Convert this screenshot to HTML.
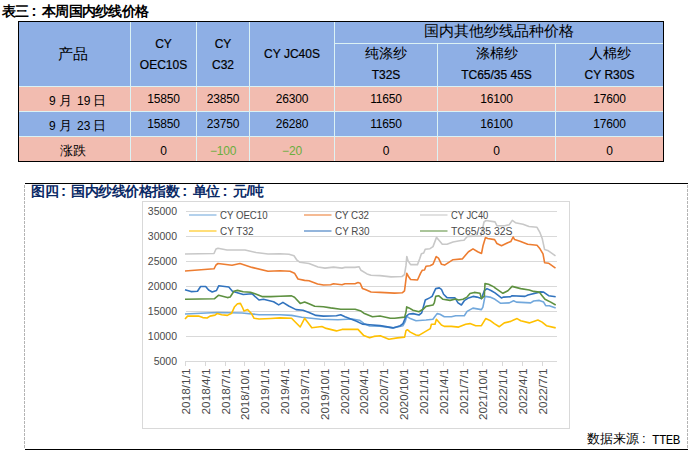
<!DOCTYPE html>
<html><head><meta charset="utf-8">
<style>
html,body{margin:0;padding:0;background:#fff;}
body{width:692px;height:455px;position:relative;overflow:hidden;font-family:"Liberation Sans",sans-serif;}
.a{position:absolute;}
.t1{left:2px;top:2px;font-size:14px;letter-spacing:-0.7px;font-weight:bold;color:#000;white-space:nowrap;line-height:18px;}
.cl{display:inline-block;width:13.3px;padding-left:3px;box-sizing:border-box;letter-spacing:0;font-size:15px;line-height:10px;}
.cell{position:absolute;text-align:center;color:#000;white-space:nowrap;}
.hd{-webkit-text-stroke:0.2px #000;font-size:12px;line-height:21px;padding-top:0px;box-sizing:border-box;}
.cj{font-size:14px;}
.num{font-size:12px;letter-spacing:-0.2px;}
.dt{font-size:12px;line-height:14px;color:#000;}
.dtc{font-size:13px;line-height:16px;color:#000;}
.ax{font-family:"Liberation Sans",sans-serif;font-size:10.5px;fill:#4A4A4A;}
.axx{letter-spacing:0.9px;}
.lg{font-family:"Liberation Sans",sans-serif;font-size:10px;fill:#4A4A4A;}
.t2{left:31px;top:183px;font-size:14px;letter-spacing:-0.5px;font-weight:bold;color:#0A2A66;white-space:nowrap;line-height:16px;}
.src{left:587px;top:431px;font-size:13px;color:#000;white-space:nowrap;line-height:16px;}
</style></head><body>
<div class="a t1">表三<span class="cl">:</span>本周国内纱线价格</div>
<!-- table -->
<div class="a" style="left:18px;top:21px;width:644px;height:139px;border:1px solid #000;background:#F2BCB0;"></div>
<div class="a" style="left:19px;top:22px;width:644px;height:64px;background:#8EAFE5;"></div>
<div class="a" style="left:19px;top:112px;width:644px;height:24px;background:#8EAFE5;"></div>
<div class="a" style="left:19px;top:86px;width:644px;height:1px;background:#DCF2F4"></div>
<div class="a" style="left:19px;top:111px;width:644px;height:1px;background:#DCF2F4"></div>
<div class="a" style="left:19px;top:136px;width:644px;height:1px;background:#DCF2F4"></div>
<div class="a" style="left:334px;top:43px;width:329px;height:1px;background:#DCF2F4"></div>
<div class="a" style="left:130px;top:22px;width:1px;height:139px;background:#DCF2F4"></div>
<div class="a" style="left:196px;top:22px;width:1px;height:139px;background:#DCF2F4"></div>
<div class="a" style="left:249px;top:22px;width:1px;height:139px;background:#DCF2F4"></div>
<div class="a" style="left:334px;top:22px;width:1px;height:139px;background:#DCF2F4"></div>
<div class="a" style="left:437px;top:44px;width:1px;height:117px;background:#DCF2F4"></div>
<div class="a" style="left:555px;top:44px;width:1px;height:117px;background:#DCF2F4"></div><div class="cell hd" style="left:19px;top:22px;width:111px;height:64px;display:flex;align-items:center;justify-content:center;flex-direction:column;"><span style="font-size:14.5px;position:relative;left:-1.5px;-webkit-text-stroke:0">产品</span></div>
<div class="cell hd" style="left:131px;top:22px;width:65px;height:64px;display:flex;align-items:center;justify-content:center;flex-direction:column;"><div style="position:relative;top:1px">CY</div><div style="position:relative;top:1px">OEC10S</div></div>
<div class="cell hd" style="left:197px;top:22px;width:52px;height:64px;display:flex;align-items:center;justify-content:center;flex-direction:column;"><div style="position:relative;top:1px">CY</div><div style="position:relative;top:1px">C32</div></div>
<div class="cell hd" style="left:250px;top:22px;width:84px;height:64px;display:flex;align-items:center;justify-content:center;flex-direction:column;"><div>CY JC40S</div></div>
<div class="cell hd" style="left:335px;top:22px;width:328px;height:21px;display:flex;align-items:center;justify-content:center;flex-direction:column;"><span style="font-size:14.5px;-webkit-text-stroke:0;position:relative;top:-1px">国内其他纱线品种价格</span></div>
<div class="cell hd" style="left:335px;top:44px;width:102px;height:42px;display:flex;align-items:center;justify-content:center;flex-direction:column;"><div style="font-size:14px;-webkit-text-stroke:0;position:relative;top:-1.5px">纯涤纱</div><div>T32S</div></div>
<div class="cell hd" style="left:438px;top:44px;width:117px;height:42px;display:flex;align-items:center;justify-content:center;flex-direction:column;"><div style="font-size:14px;-webkit-text-stroke:0;position:relative;top:-1.5px">涤棉纱</div><div>TC65/35 45S</div></div>
<div class="cell hd" style="left:556px;top:44px;width:107px;height:42px;display:flex;align-items:center;justify-content:center;flex-direction:column;"><div style="font-size:14px;-webkit-text-stroke:0;position:relative;top:-1.5px">人棉纱</div><div>CY R30S</div></div>
<div class="cell num" style="left:131px;top:87px;width:65px;height:24px;display:flex;align-items:center;justify-content:center;flex-direction:column;">15850</div>
<div class="cell num" style="left:197px;top:87px;width:52px;height:24px;display:flex;align-items:center;justify-content:center;flex-direction:column;">23850</div>
<div class="cell num" style="left:250px;top:87px;width:84px;height:24px;display:flex;align-items:center;justify-content:center;flex-direction:column;">26300</div>
<div class="cell num" style="left:335px;top:87px;width:102px;height:24px;display:flex;align-items:center;justify-content:center;flex-direction:column;">11650</div>
<div class="cell num" style="left:438px;top:87px;width:117px;height:24px;display:flex;align-items:center;justify-content:center;flex-direction:column;">16100</div>
<div class="cell num" style="left:556px;top:87px;width:107px;height:24px;display:flex;align-items:center;justify-content:center;flex-direction:column;">17600</div>
<div class="cell num" style="left:131px;top:112px;width:65px;height:24px;display:flex;align-items:center;justify-content:center;flex-direction:column;">15850</div>
<div class="cell num" style="left:197px;top:112px;width:52px;height:24px;display:flex;align-items:center;justify-content:center;flex-direction:column;">23750</div>
<div class="cell num" style="left:250px;top:112px;width:84px;height:24px;display:flex;align-items:center;justify-content:center;flex-direction:column;">26280</div>
<div class="cell num" style="left:335px;top:112px;width:102px;height:24px;display:flex;align-items:center;justify-content:center;flex-direction:column;">11650</div>
<div class="cell num" style="left:438px;top:112px;width:117px;height:24px;display:flex;align-items:center;justify-content:center;flex-direction:column;">16100</div>
<div class="cell num" style="left:556px;top:112px;width:107px;height:24px;display:flex;align-items:center;justify-content:center;flex-direction:column;">17600</div>
<div class="cell num" style="left:131px;top:139px;width:65px;height:24px;display:flex;align-items:center;justify-content:center;flex-direction:column;">0</div>
<div class="cell num" style="left:197px;top:139px;width:52px;height:24px;display:flex;align-items:center;justify-content:center;flex-direction:column;"><span style="color:#6AAE3E">−100</span></div>
<div class="cell num" style="left:250px;top:139px;width:84px;height:24px;display:flex;align-items:center;justify-content:center;flex-direction:column;"><span style="color:#6AAE3E">−20</span></div>
<div class="cell num" style="left:335px;top:139px;width:102px;height:24px;display:flex;align-items:center;justify-content:center;flex-direction:column;">0</div>
<div class="cell num" style="left:438px;top:139px;width:117px;height:24px;display:flex;align-items:center;justify-content:center;flex-direction:column;">0</div>
<div class="cell num" style="left:556px;top:139px;width:107px;height:24px;display:flex;align-items:center;justify-content:center;flex-direction:column;">0</div>
<div class="a dt" style="left:49px;top:94px">9</div><div class="a dtc" style="left:59px;top:93px">月</div><div class="a dt" style="left:77px;top:94px">19</div><div class="a dtc" style="left:93px;top:93px">日</div>
<div class="a dt" style="left:49px;top:119px">9</div><div class="a dtc" style="left:59px;top:118px">月</div><div class="a dt" style="left:77px;top:119px">23</div><div class="a dtc" style="left:93px;top:118px">日</div>
<div class="a dtc" style="left:60px;top:143px;letter-spacing:0px">涨跌</div>
<!-- chart frame -->
<div class="a" style="left:25px;top:183px;width:663px;height:1px;background:#000"></div>
<div class="a" style="left:25px;top:449px;width:663px;height:1px;background:#000"></div>
<svg class="a" style="left:0;top:0" width="692" height="455"><line x1="24.5" y1="185" x2="24.5" y2="449" stroke="#B4B4B4" stroke-width="1" stroke-dasharray="3,1"/><line x1="687.5" y1="185" x2="687.5" y2="449" stroke="#B4B4B4" stroke-width="1" stroke-dasharray="3,1"/></svg>
<div class="a t2">图四<span class="cl">:</span>国内纱线价格指数<span class="cl">:</span>单位<span class="cl">:</span>元/吨</div>
<svg class="a" style="left:0;top:0" width="692" height="455" viewBox="0 0 692 455">
<rect x="142.5" y="201.5" width="427" height="227" fill="#fff" stroke="#D9D9D9" stroke-width="1"/>
<line x1="186" y1="211.5" x2="557" y2="211.5" stroke="#D9D9D9" stroke-width="1"/>
<line x1="186" y1="236.5" x2="557" y2="236.5" stroke="#D9D9D9" stroke-width="1"/>
<line x1="186" y1="261.5" x2="557" y2="261.5" stroke="#D9D9D9" stroke-width="1"/>
<line x1="186" y1="286.5" x2="557" y2="286.5" stroke="#D9D9D9" stroke-width="1"/>
<line x1="186" y1="311.5" x2="557" y2="311.5" stroke="#D9D9D9" stroke-width="1"/>
<line x1="186" y1="336.5" x2="557" y2="336.5" stroke="#D9D9D9" stroke-width="1"/>
<line x1="185" y1="361.5" x2="557" y2="361.5" stroke="#D9D9D9" stroke-width="1"/>
<line x1="185.5" y1="361" x2="185.5" y2="366" stroke="#D9D9D9" stroke-width="1"/>
<line x1="205.5" y1="361" x2="205.5" y2="366" stroke="#D9D9D9" stroke-width="1"/>
<line x1="225.5" y1="361" x2="225.5" y2="366" stroke="#D9D9D9" stroke-width="1"/>
<line x1="244.5" y1="361" x2="244.5" y2="366" stroke="#D9D9D9" stroke-width="1"/>
<line x1="264.5" y1="361" x2="264.5" y2="366" stroke="#D9D9D9" stroke-width="1"/>
<line x1="284.5" y1="361" x2="284.5" y2="366" stroke="#D9D9D9" stroke-width="1"/>
<line x1="304.5" y1="361" x2="304.5" y2="366" stroke="#D9D9D9" stroke-width="1"/>
<line x1="324.5" y1="361" x2="324.5" y2="366" stroke="#D9D9D9" stroke-width="1"/>
<line x1="344.5" y1="361" x2="344.5" y2="366" stroke="#D9D9D9" stroke-width="1"/>
<line x1="363.5" y1="361" x2="363.5" y2="366" stroke="#D9D9D9" stroke-width="1"/>
<line x1="383.5" y1="361" x2="383.5" y2="366" stroke="#D9D9D9" stroke-width="1"/>
<line x1="403.5" y1="361" x2="403.5" y2="366" stroke="#D9D9D9" stroke-width="1"/>
<line x1="423.5" y1="361" x2="423.5" y2="366" stroke="#D9D9D9" stroke-width="1"/>
<line x1="443.5" y1="361" x2="443.5" y2="366" stroke="#D9D9D9" stroke-width="1"/>
<line x1="463.5" y1="361" x2="463.5" y2="366" stroke="#D9D9D9" stroke-width="1"/>
<line x1="482.5" y1="361" x2="482.5" y2="366" stroke="#D9D9D9" stroke-width="1"/>
<line x1="502.5" y1="361" x2="502.5" y2="366" stroke="#D9D9D9" stroke-width="1"/>
<line x1="522.5" y1="361" x2="522.5" y2="366" stroke="#D9D9D9" stroke-width="1"/>
<line x1="542.5" y1="361" x2="542.5" y2="366" stroke="#D9D9D9" stroke-width="1"/>
<text x="177" y="215" text-anchor="end" class="ax">35000</text>
<text x="177" y="240" text-anchor="end" class="ax">30000</text>
<text x="177" y="265" text-anchor="end" class="ax">25000</text>
<text x="177" y="290" text-anchor="end" class="ax">20000</text>
<text x="177" y="315" text-anchor="end" class="ax">15000</text>
<text x="177" y="340" text-anchor="end" class="ax">10000</text>
<text x="177" y="365" text-anchor="end" class="ax">5000</text>
<text x="189.5" y="368.5" text-anchor="end" class="ax" textLength="46" lengthAdjust="spacingAndGlyphs" transform="rotate(-90 189.5 368.5)">2018/1/1</text>
<text x="209.5" y="368.5" text-anchor="end" class="ax" textLength="46" lengthAdjust="spacingAndGlyphs" transform="rotate(-90 209.5 368.5)">2018/4/1</text>
<text x="229.5" y="368.5" text-anchor="end" class="ax" textLength="46" lengthAdjust="spacingAndGlyphs" transform="rotate(-90 229.5 368.5)">2018/7/1</text>
<text x="248.5" y="368.5" text-anchor="end" class="ax" textLength="51.5" lengthAdjust="spacingAndGlyphs" transform="rotate(-90 248.5 368.5)">2018/10/1</text>
<text x="268.5" y="368.5" text-anchor="end" class="ax" textLength="46" lengthAdjust="spacingAndGlyphs" transform="rotate(-90 268.5 368.5)">2019/1/1</text>
<text x="288.5" y="368.5" text-anchor="end" class="ax" textLength="46" lengthAdjust="spacingAndGlyphs" transform="rotate(-90 288.5 368.5)">2019/4/1</text>
<text x="308.5" y="368.5" text-anchor="end" class="ax" textLength="46" lengthAdjust="spacingAndGlyphs" transform="rotate(-90 308.5 368.5)">2019/7/1</text>
<text x="328.5" y="368.5" text-anchor="end" class="ax" textLength="51.5" lengthAdjust="spacingAndGlyphs" transform="rotate(-90 328.5 368.5)">2019/10/1</text>
<text x="348.5" y="368.5" text-anchor="end" class="ax" textLength="46" lengthAdjust="spacingAndGlyphs" transform="rotate(-90 348.5 368.5)">2020/1/1</text>
<text x="367.5" y="368.5" text-anchor="end" class="ax" textLength="46" lengthAdjust="spacingAndGlyphs" transform="rotate(-90 367.5 368.5)">2020/4/1</text>
<text x="387.5" y="368.5" text-anchor="end" class="ax" textLength="46" lengthAdjust="spacingAndGlyphs" transform="rotate(-90 387.5 368.5)">2020/7/1</text>
<text x="407.5" y="368.5" text-anchor="end" class="ax" textLength="51.5" lengthAdjust="spacingAndGlyphs" transform="rotate(-90 407.5 368.5)">2020/10/1</text>
<text x="427.5" y="368.5" text-anchor="end" class="ax" textLength="46" lengthAdjust="spacingAndGlyphs" transform="rotate(-90 427.5 368.5)">2021/1/1</text>
<text x="447.5" y="368.5" text-anchor="end" class="ax" textLength="46" lengthAdjust="spacingAndGlyphs" transform="rotate(-90 447.5 368.5)">2021/4/1</text>
<text x="467.5" y="368.5" text-anchor="end" class="ax" textLength="46" lengthAdjust="spacingAndGlyphs" transform="rotate(-90 467.5 368.5)">2021/7/1</text>
<text x="486.5" y="368.5" text-anchor="end" class="ax" textLength="51.5" lengthAdjust="spacingAndGlyphs" transform="rotate(-90 486.5 368.5)">2021/10/1</text>
<text x="506.5" y="368.5" text-anchor="end" class="ax" textLength="46" lengthAdjust="spacingAndGlyphs" transform="rotate(-90 506.5 368.5)">2022/1/1</text>
<text x="526.5" y="368.5" text-anchor="end" class="ax" textLength="46" lengthAdjust="spacingAndGlyphs" transform="rotate(-90 526.5 368.5)">2022/4/1</text>
<text x="546.5" y="368.5" text-anchor="end" class="ax" textLength="46" lengthAdjust="spacingAndGlyphs" transform="rotate(-90 546.5 368.5)">2022/7/1</text>
<polyline fill="none" stroke="#72A8DC" stroke-width="1.6" stroke-linejoin="round" points="185,314 217,312.5 242,313 259,314.7 280,314.7 291.6,315.4 301.7,317.3 320.5,319.3 337.8,319.7 352.3,319 359.5,320.2 363.8,323.4 369.6,326 380,326.2 393,327.9 403,325.7 405.3,321.4 406.7,316.4 410.3,318.6 416,320.7 426,320 432.9,319.3 437.1,313.6 440,314.3 444.3,316.7 451.4,316.7 455.7,315.7 464.3,315.7 467.1,311.4 472.9,308.1 481.4,309.6 482.9,307.1 485,296.4 490,297.1 495,299.3 500.7,303.3 509.3,302.9 513.6,300.7 516.4,302.1 530.7,302.9 533.6,301 539.3,300.4 543.6,302.1 545.7,305.7 549.3,305.7 555.7,307.9"/>
<polyline fill="none" stroke="#ED7D31" stroke-width="1.6" stroke-linejoin="round" points="185,271 214,268.8 216,265 218,263.5 232,265.2 240,263.5 252,267.4 268,271.3 280,270.7 290,271.3 294.5,273.2 298,279 304.6,280.4 309,280.8 317.6,284 323.4,285 330.6,284.7 333.5,283.7 342,284.7 345,283.7 355,283.7 358,282.6 360.2,283.3 362.4,288.4 365.3,289.5 371,292 380,292.4 394.5,293.1 402.2,292.8 404.5,290.8 406,279.2 406.8,273.4 408.3,276.2 410.6,279.5 417.5,280 420.6,273.1 422.2,270.3 424.5,270 426,266.2 430,265.8 433,264.3 436.2,256.6 438.5,258.2 441.5,264.3 444.6,265.1 453,259.7 462.3,258.9 468.5,251.7 473,248.9 477.7,251.7 481.5,253.5 483,245.8 485.5,237.5 487.7,238.5 494.6,239.6 496.9,243.5 501.5,245.8 507.7,242.7 510.8,241.6 513.1,237 514.6,239.6 520,241.2 527.7,244.2 537,245.3 540,248.8 543,253.9 544.6,262.7 548.5,263.2 555.5,268.1"/>
<polyline fill="none" stroke="#C8C8C8" stroke-width="1.6" stroke-linejoin="round" points="185,254 214,253.5 216,249 218,248.2 227,250 245,250 256,252.5 268,254 280,253.7 289,254.3 294,255.8 297,260.2 300,262.3 309,263.5 318,267 325,268.1 333.5,267.1 342,268.1 345,267.4 355,267.4 359,266.7 361,270.3 367,273.9 371,275.3 380,275.6 391,276.9 402,276.5 404.5,274.6 406,265.4 406.8,256.5 408,260.8 410.6,264.6 417.5,264.6 419.8,258.5 421.4,253.8 423.7,253 425.2,249.2 430,248.7 433,246.6 436.5,237.4 439.2,240.5 442.3,244.3 447,244.3 453,242 461,240.5 464,240.3 467.3,236.4 481,236 484,222 486,220.5 495,221.9 497,225.8 504.6,225.8 509.2,224.7 512.3,220.4 515.4,222.7 523,224.2 529,226.5 537,227.3 540,232.7 542.3,238.8 544.6,249.6 547.7,250.4 555.5,255.8"/>
<polyline fill="none" stroke="#FFC000" stroke-width="1.6" stroke-linejoin="round" points="185,319 187.6,316.1 198.5,316 202.8,317.6 207.1,318 210,316.1 215,315.1 217.2,313.5 221.6,314.7 227.4,315.4 231.7,313.2 234.6,306.7 237.5,303.8 240.4,303.4 242.5,307.5 244,311 247.6,309.6 251.2,313.2 254.1,318.3 259.1,319 270.7,318.5 280,317.9 291.6,318.3 294.5,321.2 300.2,327 304.6,318.3 307.5,321.9 311.8,327.7 321.9,326.5 326.2,328.4 336.4,330.9 342.1,329.4 358,329.4 363.8,335.6 369.6,337.8 373.9,336.4 380.3,335.7 388.9,339.3 397.4,337.9 404.6,337.1 406,330.7 407.4,329.7 410.3,332.1 416,335 418.9,335.4 423.1,332.9 430.3,328.6 431.4,324.3 435,324.3 436.4,319.3 441.4,325 444.3,326.4 451.4,326.4 458.6,327.1 465.7,324.3 470,323.6 475.7,325.7 481.4,325.7 485.7,318.6 490,320.4 494.3,323.6 499.3,326.7 504.3,322.9 510.7,321.4 513.6,320 517.1,318.6 520.7,320.7 529.3,322.9 533.6,321.4 537.9,320 542.1,322.1 546.4,325.7 555.7,327.9"/>
<polyline fill="none" stroke="#3173BE" stroke-width="1.6" stroke-linejoin="round" points="185,289.7 191,291.6 197.5,291.3 200.6,286.5 205.7,286.5 208.6,290 212.2,292 216.5,290.5 218.7,285.8 228.8,287 232.4,291.3 243.2,294.5 252,293.7 259,300 263.5,299.2 273.6,301.7 278.7,304.9 282.9,302.4 288.7,306 296,309.6 303,310.3 309,312.5 316,315.4 323.4,316.1 336.4,315.8 340.7,314.7 345,316.8 350.8,319 356.6,321.2 362.4,324.1 369.6,324.8 380,325.6 384.6,326.4 393,327.9 400.3,325.7 403,323.6 406,316.4 409,314 413,313.6 419,315 421.7,312.9 425.3,300 429.6,297.9 432.1,296.4 435.7,288.6 439.3,287.9 441.4,289.3 443.6,294.3 447,297.6 455,297.9 458,302.9 461.4,305 464.3,300.7 468.6,297.9 473,296.4 477,297.1 481.4,298.6 484.3,290.7 487,288.6 491.4,290.7 495,292.9 501.4,297.9 503.6,297.1 510.7,296.7 512.1,295.7 525,296.4 528,295 540.7,291.9 543.6,292.1 548.6,295.7 555.7,296.7"/>
<polyline fill="none" stroke="#5E9140" stroke-width="1.6" stroke-linejoin="round" points="185,299.2 214.3,298.8 218.7,295.2 227.4,297.6 230.2,297 233.9,291.3 237.5,290.4 243.2,291.8 250.5,292.3 256.3,294.2 262,296.6 270.7,296.6 280,296.3 291.6,295.9 294.5,297.3 300.2,303.4 304.6,302 309,303.8 314.7,306.3 323.4,306.7 330.6,307.9 340.7,309.3 355.1,309.2 361,311.1 363.8,313.2 372.5,316.8 380,316 390.3,318.3 394.6,318.3 404.6,317.1 406,312.1 406.7,306.9 409,307.9 413,310.3 419,311.7 423,309.3 426,306.4 433,305 434.3,302.9 435.7,296.4 438.6,295.7 443,299.3 450,300.4 455.7,299 458.6,300 463,299.3 467,297.1 470,293.6 474.3,292.4 480,293.3 481.4,298.6 484.3,296.1 485,283.6 488.6,284.3 494.3,287.1 495,287.9 502.9,293.3 507.9,290.7 512.1,286.4 520.7,288.6 529.3,290 533.6,291.4 539.3,292.1 542.1,295.7 545,299.3 550.7,302.1 555.7,305"/>
<line x1="189" y1="215" x2="216.5" y2="215" stroke="#72A8DC" stroke-width="1.4" opacity="0.75"/>
<text x="220" y="219" class="lg" textLength="47.5" lengthAdjust="spacingAndGlyphs">CY OEC10</text>
<line x1="304" y1="215" x2="331.5" y2="215" stroke="#ED7D31" stroke-width="1.4" opacity="0.75"/>
<text x="335" y="219" class="lg" textLength="34" lengthAdjust="spacingAndGlyphs">CY C32</text>
<line x1="420" y1="215" x2="447.5" y2="215" stroke="#C8C8C8" stroke-width="1.4" opacity="0.75"/>
<text x="451" y="219" class="lg" textLength="37.3" lengthAdjust="spacingAndGlyphs">CY JC40</text>
<line x1="189" y1="231" x2="216.5" y2="231" stroke="#FFC000" stroke-width="1.4" opacity="0.75"/>
<text x="220" y="235" class="lg" textLength="33.5" lengthAdjust="spacingAndGlyphs">CY T32</text>
<line x1="304" y1="231" x2="331.5" y2="231" stroke="#3173BE" stroke-width="1.4" opacity="0.75"/>
<text x="335" y="235" class="lg" textLength="34.5" lengthAdjust="spacingAndGlyphs">CY R30</text>
<line x1="420" y1="231" x2="447.5" y2="231" stroke="#5E9140" stroke-width="1.4" opacity="0.75"/>
<text x="451" y="235" class="lg" textLength="61.5" lengthAdjust="spacingAndGlyphs">TC65/35 32S</text>
</svg>
<div class="a src">数据来源<span style="display:inline-block;width:13px;padding-left:3px;box-sizing:border-box">:</span><span style="font-family:'Liberation Mono',monospace;font-size:12.5px;letter-spacing:-0.6px;position:relative;top:1px">TTEB</span></div>
</body></html>
